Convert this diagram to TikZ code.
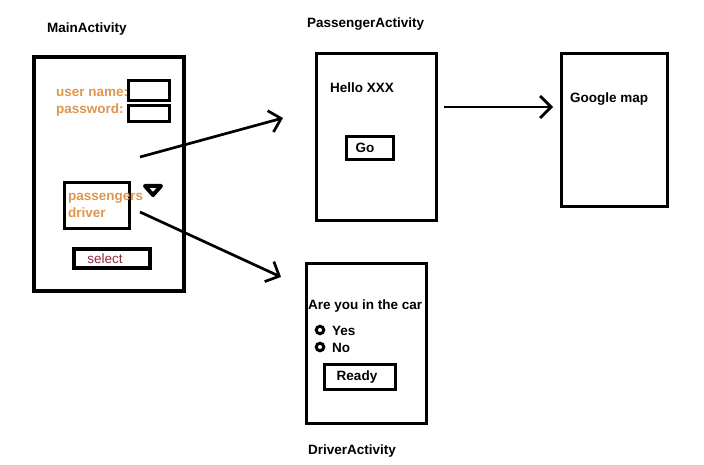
\documentclass[tikz,border=0pt]{standalone}
\usepackage{fontspec}
\setmainfont{Liberation Sans}
\usetikzlibrary{arrows.meta,positioning}
\definecolor{fieldorange}{RGB}{222,150,80}
\definecolor{selectred}{RGB}{150,40,60}

\begin{document}
\begin{tikzpicture}[x=1pt,y=-1pt,
  every node/.style={font=\fontsize{13.5}{15}\selectfont\bfseries},
  screen/.style={draw,line width=3.5pt,inner sep=0pt},
  field/.style={draw,line width=3pt,inner sep=0pt},
  txt/.style={anchor=west,inner sep=0pt},
  radio/.style={circle,draw,line width=3pt,fill=white,minimum size=7.5pt,inner sep=0pt},
  flow/.style={line width=2.7pt,-{Straight Barb[length=11pt,width=22pt,line width=2.7pt]}}]
\fill[white] (0,0) rectangle (704,465);
\useasboundingbox (0,0) rectangle (704,465);
% main screen
\node[txt] (mainLbl) at (47,29) {MainActivity};
\node[screen,line width=4.5pt,minimum width=150pt,minimum height=234pt] (main) at (109,174) {};
\node[field,minimum width=41pt,minimum height=20pt] (user) at (148.5,91) {};
\node[field,minimum width=41pt,minimum height=16pt] (pass) at (148.5,114) {};
\node[txt,text=fieldorange] (userLbl) at (56,93) {user name:};
\node[txt,text=fieldorange] (passLbl) at (56,110) {password:};
\node[field,minimum width=65pt,minimum height=46pt] (role) at (96.5,206) {};
\node[txt,text=fieldorange] (roleP) at (68,198) {passengers};
\node[txt,text=fieldorange] (roleD) at (68,213) {driver};
\draw[line width=4pt,line join=round,fill=white] (145,186) -- (161,186) -- (153,195) -- cycle;
\node[screen,line width=4.5pt,minimum width=76pt,minimum height=19pt,text=selectred,font=\fontsize{13.5}{15}\selectfont] (select) at (112,258.5) {\hspace*{-14pt}select};
% passenger screen
\node[txt] (passengerLbl) at (307,24) {PassengerActivity};
\node[screen,minimum width=120pt,minimum height=167pt] (passenger) at (376.5,137) {};
\node[txt] (hello) at (330,88) {Hello XXX};
\node[screen,minimum width=47pt,minimum height=23pt] (go) at (370,148) {\hspace*{-10pt}Go};
% map screen
\node[screen,minimum width=106pt,minimum height=153pt] (map) at (614.5,130) {};
\node[txt] (mapLbl) at (570,99) {Google map};
% driver screen
\node[screen,minimum width=120pt,minimum height=160pt] (driver) at (366.5,343.5) {};
\node[txt] (ask) at (308,306) {Are you in the car};
\node[radio] (yesBtn) at (320,330) {};
\node[txt] (yes) at (332,331) {Yes};
\node[radio] (noBtn) at (320,347) {};
\node[txt] (no) at (332,348) {No};
\node[screen,minimum width=71pt,minimum height=25pt] (ready) at (360,377) {\hspace*{-6pt}Ready};
\node[txt] (driverLbl) at (308,451) {DriverActivity};
% transitions
\coordinate (fromMainA) at (140,157);
\coordinate (toPassenger) at (283,118);
\coordinate (fromMainB) at (140,212);
\coordinate (toDriver) at (281,277);
\coordinate (fromPassenger) at (444,107);
\coordinate (toMap) at (553,107);
\draw[flow] (fromMainA) -- (toPassenger);
\draw[flow] (fromMainB) -- (toDriver);
\draw[flow] (fromPassenger) -- (toMap);
\end{tikzpicture}
\end{document}
